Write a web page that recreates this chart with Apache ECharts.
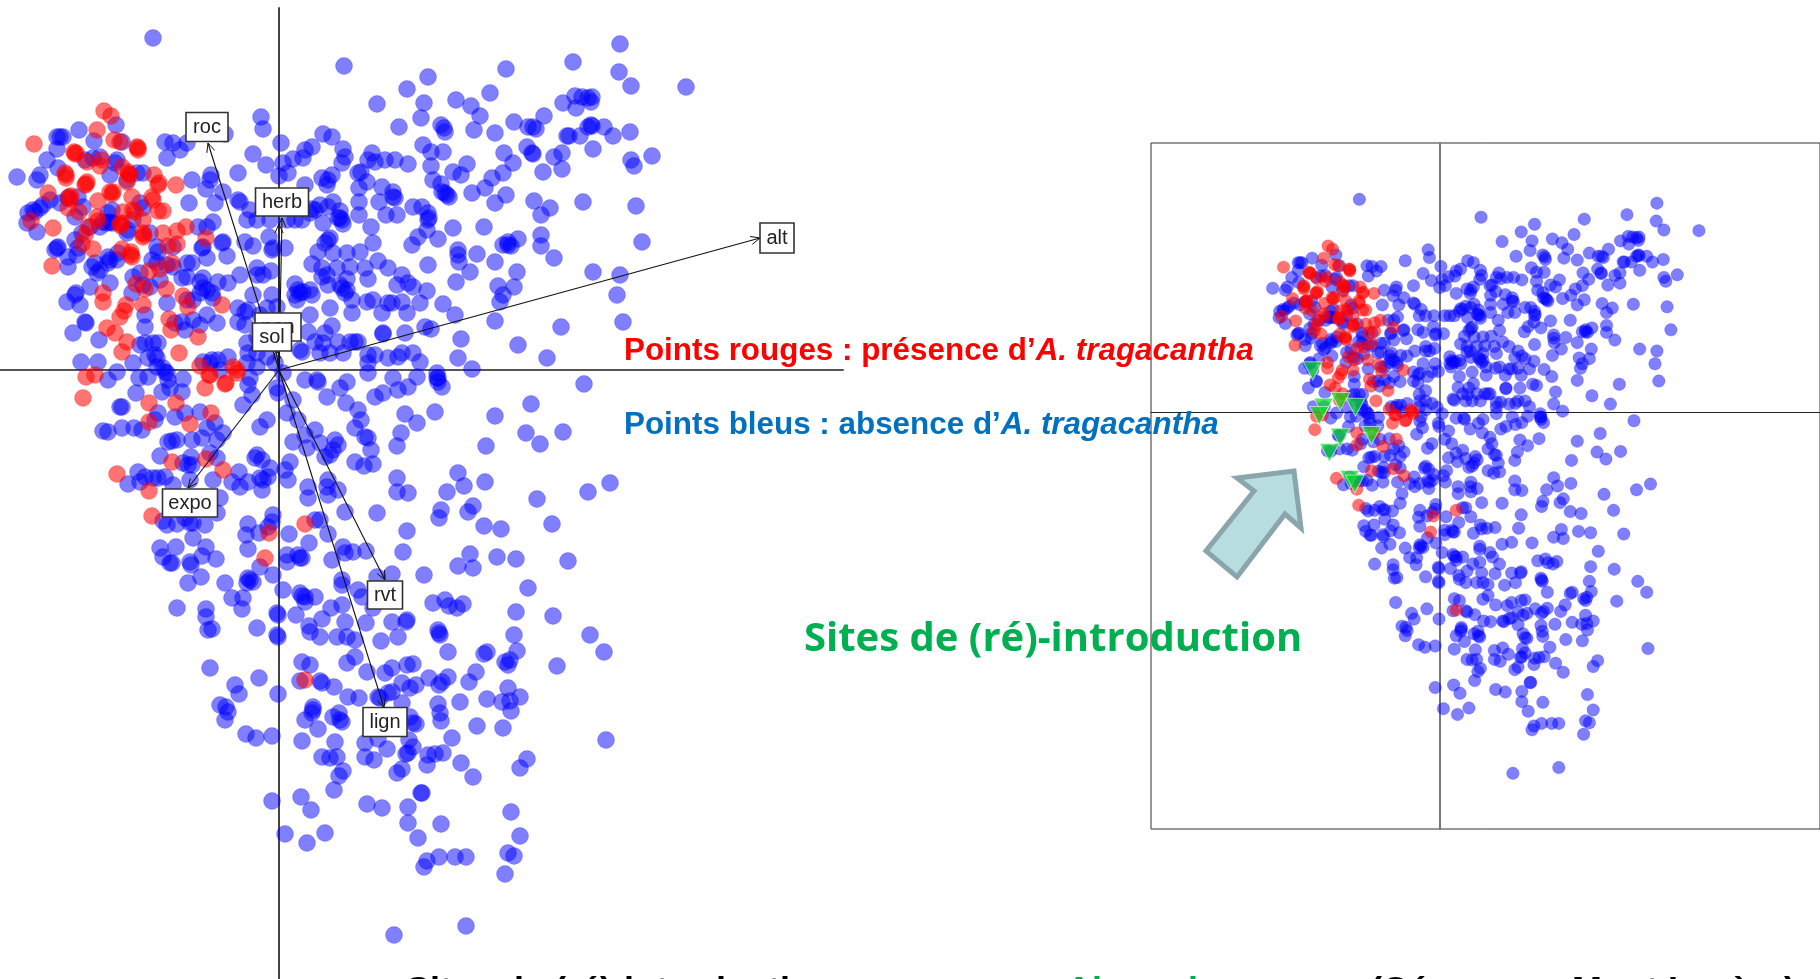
<!DOCTYPE html>
<html>
<head>
<meta charset="utf-8">
<style>html,body{margin:0;padding:0;background:#fff;overflow:hidden}#main{width:1820px;height:979px}</style>
<script src="https://cdn.jsdelivr.net/npm/echarts@6/dist/echarts.min.js"></script>
</head>
<body>
<div id="main"></div>
<script>
// scores de l'ordination (meme nuage dans les deux panneaux)
var blueScores = [
[-126,332],[65,304],[128,281],[98,266],[120,243],[-18,253],[-16,241],[2,227],[44,236],[53,233],[64,221],[66,213],[63,207],[33,223],[26,220],[24,212],[14,211],[4,207],[9,197],[0,194],[-26,216],[-13,205],[-41,197],[-54,236],
[26,185],[49,190],[43,192],[53,195],[48,185],[41,165],[49,163],[54,168],[61,159],[61,152],[63,150],[64,146],[44,147],[36,160],[31,157],[23,150],[16,150],[8,150],[33,161],[59,152],
[-114,228],[-106,227],[-99,220],[-92,227],[-112,212],[-200,240],[-222,233],[-216,233],[-219,233],[-185,229],[-222,221],[-232,210],[-163,245],[-157,228],[-262,193],[-239,195],[-242,190],[-221,202],[-87,190],[-68,195],[-69,190],[-73,181],[-56,178],[-90,167],[-64,167],[-41,170],[-39,168],[-29,160],[-32,150],[-22,150],[-9,150],[-10,133],[-6,122],[-7,120],[6,122],[-34,128],[-26,124],[-56,128],[-57,127],[-66,148],[-72,143],[-81,143],[-76,123],[-77,122],[-72,112],[-52,114],[-39,95],[-22,102],[-16,95],[-8,99],[-22,95],[-61,88],[-51,87],[-76,92],[-79,88],[-72,80],[-67,77],[-66,72],[-76,82],[-87,107],[-92,107],[-97,92],[-92,93],
[-189,83],[-169,87],[-187,103],[-182,97],[-179,100],[-184,107],[-171,113],[-169,110],[-171,107],[-162,110],[-161,117],[-222,122],[-221,123],[-224,120],[-211,113],[-211,103],[-202,115],[-201,122],[-204,130],[-197,137],[-189,143],[-179,143],[-172,147],[-169,148],[-244,158],[-246,160],[-251,157],[-252,147],[-242,138],[-239,162],[-236,165],[-229,170],[-219,167],[-211,172],[-201,173],[-186,212],[-179,213],[-194,210],[-162,210],[-164,207],[-169,195],[-152,190],[-142,197],[-136,197],[-139,167],[-136,162],[-152,137],[-129,137],[-122,123],[-121,118],[-106,123],[-127,110],[-122,107],[-139,97],[-146,93],[-136,85],[-147,77],[-129,83],[-119,90],[-112,67],[-104,47],[-97,48],[-86,50],[-79,45],[-62,47],[-72,55],[-92,70],[-86,70],[-79,77],[-112,105],[-106,103],[-94,40],[-171,157],[-167,160],[-167,147],[-176,148],[-204,153],[-196,163],[-151,140],[-146,150],[-76,8],[-69,7],[-59,0],[-32,7],[-22,3],
[-203,77],[-204,75],[-212,68],[-199,65],[-134,43],[-134,55],[-194,48],[-193,47],[-206,37],[-180,30],[-139,25],[-126,27],[-121,27],[-134,27],[-131,12],[-124,15],[-122,12],[-198,8],[-181,8],[-146,7],[-162,-2],[-116,2],[-114,-2],[-122,3],
[-7,75],[-2,63],[-26,75],[-31,60],[-34,58],[-41,62],[-19,55],[-12,62],[-41,48],[-34,45],[-22,33],[-32,27],[-31,17],[-22,17],[-51,13],[-61,10],[-67,10],[-12,13],[-4,7],
[93,217],[89,210],[96,208],[106,210],[116,210],[129,206],[82,198],[79,197],[88,188],[80,182],[103,183],[114,178],[116,172],[114,173],[100,168],[80,168],[80,155],[107,155],[118,155],[92,143],[134,163],[49,130],[46,127],[51,132],[94,127],[133,125],[139,133],[81,118],[68,117],[54,117],[39,118],[99,109],[109,102],[33,106],[43,102],[58,102],[71,103],[86,102],[89,91],[43,93],[48,95],[68,91],[61,85],[49,85],[68,80],[63,82],[66,77],[123,95],[118,85],[129,87],[134,83],[16,86],[19,80],[21,77],[16,75],[31,80],[33,75],[24,78],[18,70],[73,70],[88,68],[94,70],[109,67],[113,67],[103,57],[128,57],[123,68],[51,62],[73,57],[31,55],[53,44],[46,37],[29,38],[104,37],[104,36],[126,37],[36,28],[44,27],[59,28],[71,28],[76,28],[79,28],[21,20],[23,18],[41,17],[51,17],[64,17],[96,15],[89,15],[89,7],[109,12],[119,13],[123,17],[134,17],
[341,326],[340,298],[352,284],[407,283],[294,308],[227,301],[149,293],[211,277],[145,267],[177,270],[192,264],[201,254],[142,252],[162,245],[166,238],[165,242],[195,240],[216,237],[235,248],[249,243],[254,243],[257,241],[265,254],[284,267],[296,274],[297,262],[303,273],[313,273],[312,268],[309,272],[288,234],[290,234],[301,234],[309,243],[312,245],[313,244],[325,243],[334,234],[351,238],[314,221],[248,223],[254,216],[253,217],[225,217],[234,207],[224,197],[213,192],[206,182],[193,177],[227,175],[216,167],[255,169],[271,162],[262,155],[275,213],[283,217],[283,201],[264,198],[304,168],[357,164],[352,210],[355,204],[373,214],[164,218],[152,218],[144,225],[152,204],[174,198],[182,195],[188,206],[154,190],[162,186],[163,178],[166,177],[170,173],[168,175],[143,163],[149,157],[149,150],[150,152],[148,140],[174,142],[205,143],[159,131],[179,120],[179,115],[180,108],[198,116],[191,98],[177,88],[149,105],[148,79],[141,67],[164,66],[176,55],[224,125],[229,128],[232,124],[239,131],[229,125],[262,135],[262,124],[275,112],[216,108],[238,98],[219,84],[235,83],[224,75],[221,68],[363,128],[314,98],[341,95],[338,75],[216,49],[282,43],[344,48],[146,43],[152,41],[182,31],[239,25],[179,12],[268,12],[193,1],[141,8],[158,-3],[159,-8],
[-171,-10],[-143,-23],[-159,-37],[-157,-37],[-140,-8],[-131,-7],[-176,-61],[-171,-62],[-157,-58],[-145,-58],[-137,-60],[-117,-22],[-109,-18],[-97,-22],[-96,-9],[-111,-10],[-112,-3],[-121,-43],[-124,-50],[-104,-47],[-94,-43],[-79,-42],[-64,-53],[-72,-58],[-56,-63],[-62,-70],[-77,-68],[-87,-70],[-102,-70],[-111,-72],[-107,-71],[-119,-86],[-96,-93],[-91,-95],[-87,-95],[-88,-87],[-62,-88],[-69,-83],[-141,-102],[-151,-114],[-139,-112],[-134,-107],[-126,-108],[-121,-108],[-114,-107],[-106,-115],[-89,-110],[-66,-110],[-47,-112],[-39,-117],[-31,-112],[-40,-102],[-59,-128],[-62,-143],[-116,-151],[-112,-155],[-102,-154],[-89,-153],[-86,-153],[-74,-155],[-94,-148],[-86,-168],[-119,-178],[-116,-187],[-109,-193],[-107,-193],[-103,-177],[-89,-192],[-88,-195],[-77,-186],[-73,-177],[-63,-189],[-91,-213],[-78,-207],[-102,-238],[-73,-239],[-73,-247],[-71,-260],[-67,-259],[-54,-213],[-47,-228],[-36,-228],[-37,-239],[-22,-258],[-31,-208],[-26,-212],[-32,-213],[-29,-210],[-19,-197],[-6,-205],[-31,-154],[-33,-165],[-31,-179],[-20,-163],[-11,-157],[-6,-145],[-7,-152],[10,-164],[30,-173],[8,-185],[8,-192],[19,-185],[21,-188],[23,-188],[36,-150],[41,-150],[-17,-120],[-19,-108],[-11,-107],[-16,-110],[-9,-98],[-17,-90],[-22,-85],[-24,-88],[-19,-57],[-12,-50],[-36,-35],[-27,-25],[-31,-15],[-29,-8],[-2,-18],[-1,-23],[14,-30],[8,-43],[19,-50],[14,-72],[26,-65],[36,-60],[28,-78],[41,-73],[56,-70],[59,-75],[54,-80],[51,-85],[46,-87],[11,-92],[6,-100],[9,-110],[29,-117],[29,-128],[48,-117],[49,-110],[49,-125],[59,-120],[66,-142],[49,-164],[64,-177],[66,-183],[74,-182],[53,-190],[63,-210],[63,-215],[79,-220],[4,-220],[21,-223],[26,-227],[26,-232],[36,-227],[23,-226],[-2,-243],[-1,-245],[-2,-265],[-1,-267],[17,-245],[43,-249],[52,-238],[63,-235],[30,-256],[31,-262],[41,-267],[58,-267],[66,-252],[68,-267],[76,-270],[23,-292],[31,-295],[68,-293],[76,-287],[76,-92],[67,-33],[61,-18],[68,-12],[48,-27],[38,-10],[39,-12],[26,-10],[76,-58],[4,-3],
[305,-14],[252,-34],[216,-46],[247,-63],[261,-74],[284,-62],[207,-76],[156,-42],[138,-53],[126,-44],[122,-63],[118,-76],[163,-17],[159,-12],[158,-8],[138,-7],[129,-17],[119,-20],[104,-23],[96,-27],[114,-8],[89,-3],[79,-40],[82,-50],[86,-67],[89,-68],[92,-80],[85,-96],[94,-94],[118,-108],[118,-122],[129,-123],[98,-143],[128,-161],[124,-182],[87,-181],[179,-103],[185,-116],[168,-122],[206,-112],[258,-129],[309,-122],[331,-113],[194,-136],[189,-142],[162,-140],[160,-148],[205,-156],[222,-159],[273,-154],[191,-184],[179,-196],[194,-198],[218,-187],[237,-189],[289,-191],[145,-205],[113,-204],[98,-207],[249,-218],[154,-233],[166,-230],[170,-236],[178,-238],[184,-234],[237,-242],[274,-246],[235,-265],[311,-265],[325,-282],[128,-250],[127,-252],[113,-252],[119,-267],[102,-271],[87,-253],[159,-260],[161,-265],[160,-263],[169,-282],[208,-282],[205,-284],[238,-281],[231,-290],[94,-238],[83,-227],
[-69,-298],[-44,-315],[-40,-324],[-20,-308],[-1,-324],[-59,-335],[-53,-337],[-51,-342],[-54,-350],[-33,-364],[-23,-368],[-7,-366],[21,-311],[41,-311],[43,-313],[55,-317],[69,-327],[80,-328],[88,-302],[106,-303],[113,-298],[128,-295],[134,-294],[123,-313],[131,-318],[137,-315],[113,-322],[109,-323],[99,-327],[101,-328],[150,-308],[160,-315],[163,-312],[169,-307],[190,-312],[197,-302],[159,-334],[161,-343],[162,-351],[181,-332],[208,-329],[223,-332],[231,-331],[241,-327],[229,-318],[232,-341],[224,-358],[198,-356],[278,-296],[229,-295],[226,-292],[327,-370],[248,-389],[241,-398],[34,-337],[34,-340],[33,-343],[26,-350],[60,-343],[54,-347],[61,-350],[63,-352],[39,-359],[23,-371],[56,-372],[43,-387],[51,-388],[58,-387],[64,-401],[60,-406],[55,-420],[86,-373],[99,-369],[108,-379],[86,-387],[95,-390],[123,-333],[131,-347],[137,-354],[134,-353],[130,-370],[134,-377],[129,-383],[127,-384],[173,-368],[149,-385],[148,-395],[156,-384],[164,-383],[182,-393],[194,-407],[118,-403],[123,-399],[143,-423],[142,-423],[129,-437],[129,-453],[88,-434],[103,-438],[162,-454],[139,-468],[22,-427],[32,-440],[-7,-431],[6,-464],[28,-473],[46,-463],[148,-491],[145,-497],[160,-487],[176,-487],[187,-487],[232,-442],[241,-466],[229,-483],[235,-486],[226,-504],[115,-565],[187,-556]
];
var redScores = [
[-245,226],[-175,259],[-168,254],[-182,240],[-165,230],[-159,228],[-142,223],[-141,220],[-141,222],[-205,218],[-203,217],[-204,216],[-192,208],[-177,210],[-179,204],[-214,197],[-213,192],[-213,195],[-151,198],[-149,195],[-150,196],[-157,203],[-125,195],[-121,185],[-120,187],[-103,185],[-152,188],[-194,185],[-192,188],[-193,186],[-231,177],[-210,173],[-208,174],[-209,171],[-169,178],[-166,178],[-167,176],[-181,169],[-147,173],[-127,173],[-126,170],[-211,162],[-200,158],[-121,159],[-116,159],[-156,158],[-146,160],[-144,158],[-182,153],[-181,149],[-248,149],[-226,142],[-159,146],[-157,147],[-158,144],[-136,150],[-191,143],[-194,135],[-136,137],[-136,133],[-135,135],[-116,137],[-102,139],[-93,143],[-197,126],[-186,121],[-73,132],[-111,124],[-102,126],[-157,121],[-148,118],[-147,113],[-148,115],[-107,107],[-119,101],[-130,99],[-227,104],[-143,86],[-134,81],[-113,81],[-176,77],[-176,68],[-96,74],[-91,63],[-57,65],[-136,65],[-153,65],[-155,59],[-159,53],[-110,51],[-108,40],[-172,42],[-164,37],[-152,28],[-157,18],[-81,33],[-100,17],[-79,4],[-46,3],[-42,0],[-70,-5],[-53,-13],[-193,-7],[-184,-5],
[-196,-28],[-130,-33],[-130,-52],[-103,-33],[-89,-54],[-68,-43],[-74,-18],[-69,-5],[-54,-14],[-42,-3],[-107,-92],[-73,-89],[-56,-100],[-162,-104],[-130,-121],[-127,-146],[-10,-163],[26,-154],[-14,-188],[26,-310]
];
var siteScores = [[-199,64],[-182,7],[-189,-6],[-156,16],[-132,7],[-156,-40],[-107,-37],[-173,-64],[-141,-106],[-133,-113]];
var arrowNames = ['roc','herb','alt','pen','sol','expo','rvt','lign'];
var arrowTips = [[-71,227],[3,152],[481,132],[0,146],[-3,20],[-91,-118],[106,-210],[105,-338]];
var boxCentres = [[-72,243],[3,168],[498,132],[-1,43],[-7,33],[-89,-133],[106,-225],[106,-352]];
var boxSizes = [[42,29],[53,28],[34,30],[46,28],[39,28],[55,28],[35,28],[44,29]];

var chart = echarts.init(document.getElementById('main'));

function axisPair(xMin,xMax,yMin,yMax,idx,colX,colY,wX,wY){
  return {
    x:{type:'value',gridIndex:idx,min:xMin,max:xMax,splitLine:{show:false},axisTick:{show:false},axisLabel:{show:false},axisLine:{onZero:true,lineStyle:{color:colX,width:wX}}},
    y:{type:'value',gridIndex:idx,min:yMin,max:yMax,splitLine:{show:false},axisTick:{show:false},axisLabel:{show:false},axisLine:{onZero:true,lineStyle:{color:colY,width:wY}}}
  };
}
var a1 = axisPair(-279,564,-609,362,0,'#555',"#444",2,2);
var a2 = axisPair(-453,597,-652,420,1,'#222','#777',1,2);

function dots(name,data,idx,size,rgb,alpha){
  return {name:name,type:'scatter',xAxisIndex:idx,yAxisIndex:idx,data:data,symbolSize:size,silent:true,
    itemStyle:{color:'rgba('+rgb+','+alpha+')',borderColor:'rgba('+rgb+',0.2)',borderWidth:1,opacity:1}};
}

// fleches du biplot + etiquettes encadrees
function renderArrow(params,api){
  var i = params.dataIndex;
  var o = api.coord([0,0]);
  var t = api.coord(arrowTips[i]);
  var c = api.coord(boxCentres[i]);
  var s = boxSizes[i];
  var ang = Math.atan2(t[1]-o[1],t[0]-o[0]);
  var h = 10, sp = 0.42;
  var h1 = [t[0]-h*Math.cos(ang-sp),t[1]-h*Math.sin(ang-sp)];
  var h2 = [t[0]-h*Math.cos(ang+sp),t[1]-h*Math.sin(ang+sp)];
  return {type:'group',children:[
    {type:'line',shape:{x1:o[0],y1:o[1],x2:t[0],y2:t[1]},style:{stroke:'#111',lineWidth:1.1}},
    {type:'polyline',shape:{points:[h1,t,h2]},style:{stroke:'#111',fill:null,lineWidth:1}},
    {type:'rect',shape:{x:c[0]-s[0]/2,y:c[1]-s[1]/2,width:s[0],height:s[1]},style:{fill:'#fff',stroke:'#333',lineWidth:1.6}},
    {type:'text',x:c[0],y:c[1],style:{text:arrowNames[i],fill:'#222',font:'20px "Liberation Sans"',align:'center',verticalAlign:'middle'}}
  ]};
}

chart.setOption({
  animation:false,
  backgroundColor:'#fff',
  grid:[
    {left:0,top:8,width:843,height:971,show:false},
    {left:1151,top:143,width:672,height:686,show:true,borderColor:'#333',borderWidth:1,backgroundColor:'transparent'}
  ],
  xAxis:[a1.x,a2.x],
  yAxis:[a1.y,a2.y],
  title:[
    {left:624,top:336,padding:0,text:'{a|Points rouges : présence d’}{b|A. tragacantha}',
     textStyle:{rich:{a:{color:'#ff0000',fontFamily:'Liberation Sans',fontWeight:'bold',fontSize:31.4},b:{color:'#ff0000',fontFamily:'Liberation Sans',fontWeight:'bold',fontStyle:'italic',fontSize:31.4}}}},
    {left:624,top:410,padding:0,text:'{a|Points bleus : absence d’}{b|A. tragacantha}',
     textStyle:{rich:{a:{color:'#0070c0',fontFamily:'Liberation Sans',fontWeight:'bold',fontSize:31.4},b:{color:'#0070c0',fontFamily:'Liberation Sans',fontWeight:'bold',fontStyle:'italic',fontSize:31.4}}}},
    {left:804,top:620,padding:0,text:'Sites de (ré)-introduction',textStyle:{color:'#00b050',fontFamily:'Open Sans',fontWeight:'bold',fontSize:40}},
    {left:406,top:975,padding:0,text:'Sites de (ré)-introduction',textStyle:{color:'#000',fontFamily:'Liberation Sans',fontWeight:'bold',fontSize:36}},
    {left:1066,top:975,padding:0,text:'Aigoual',textStyle:{color:'#00b050',fontFamily:'Liberation Sans',fontWeight:'bold',fontSize:36}},
    {left:1370,top:975,padding:0,text:'(Cévennes, Mont Lozère)',textStyle:{color:'#000',fontFamily:'Liberation Sans',fontWeight:'bold',fontSize:36}}
  ],
  graphic:[
    {type:'polygon',z:20,shape:{points:[[1294,471],[1301,528],[1285,514],[1237,577],[1206,551],[1254,491],[1237,478]]},
     style:{fill:'#b7dde0',stroke:'#8aa5ab',lineWidth:5,lineJoin:'miter'}}
  ],
  series:[
    dots('absence',blueScores,0,17,'0,0,255',0.5),
    dots('presence',redScores,0,17,'255,0,0',0.55),
    {type:'custom',xAxisIndex:0,yAxisIndex:0,data:arrowNames,renderItem:renderArrow,silent:true,z:5,clip:false},
    dots('absence2',blueScores,1,12.5,'0,0,255',0.5),
    dots('presence2',redScores,1,12.5,'255,0,0',0.55),
    {name:'sites',type:'scatter',xAxisIndex:1,yAxisIndex:1,data:siteScores,symbol:'triangle',symbolRotate:180,symbolSize:[19,18],silent:true,z:6,
     itemStyle:{color:'rgba(10,225,30,0.9)',borderColor:'rgba(235,245,235,0.8)',borderWidth:1}}
  ]
});
window.addEventListener('resize',function(){ chart.resize(); });
</script>
</body>
</html>
